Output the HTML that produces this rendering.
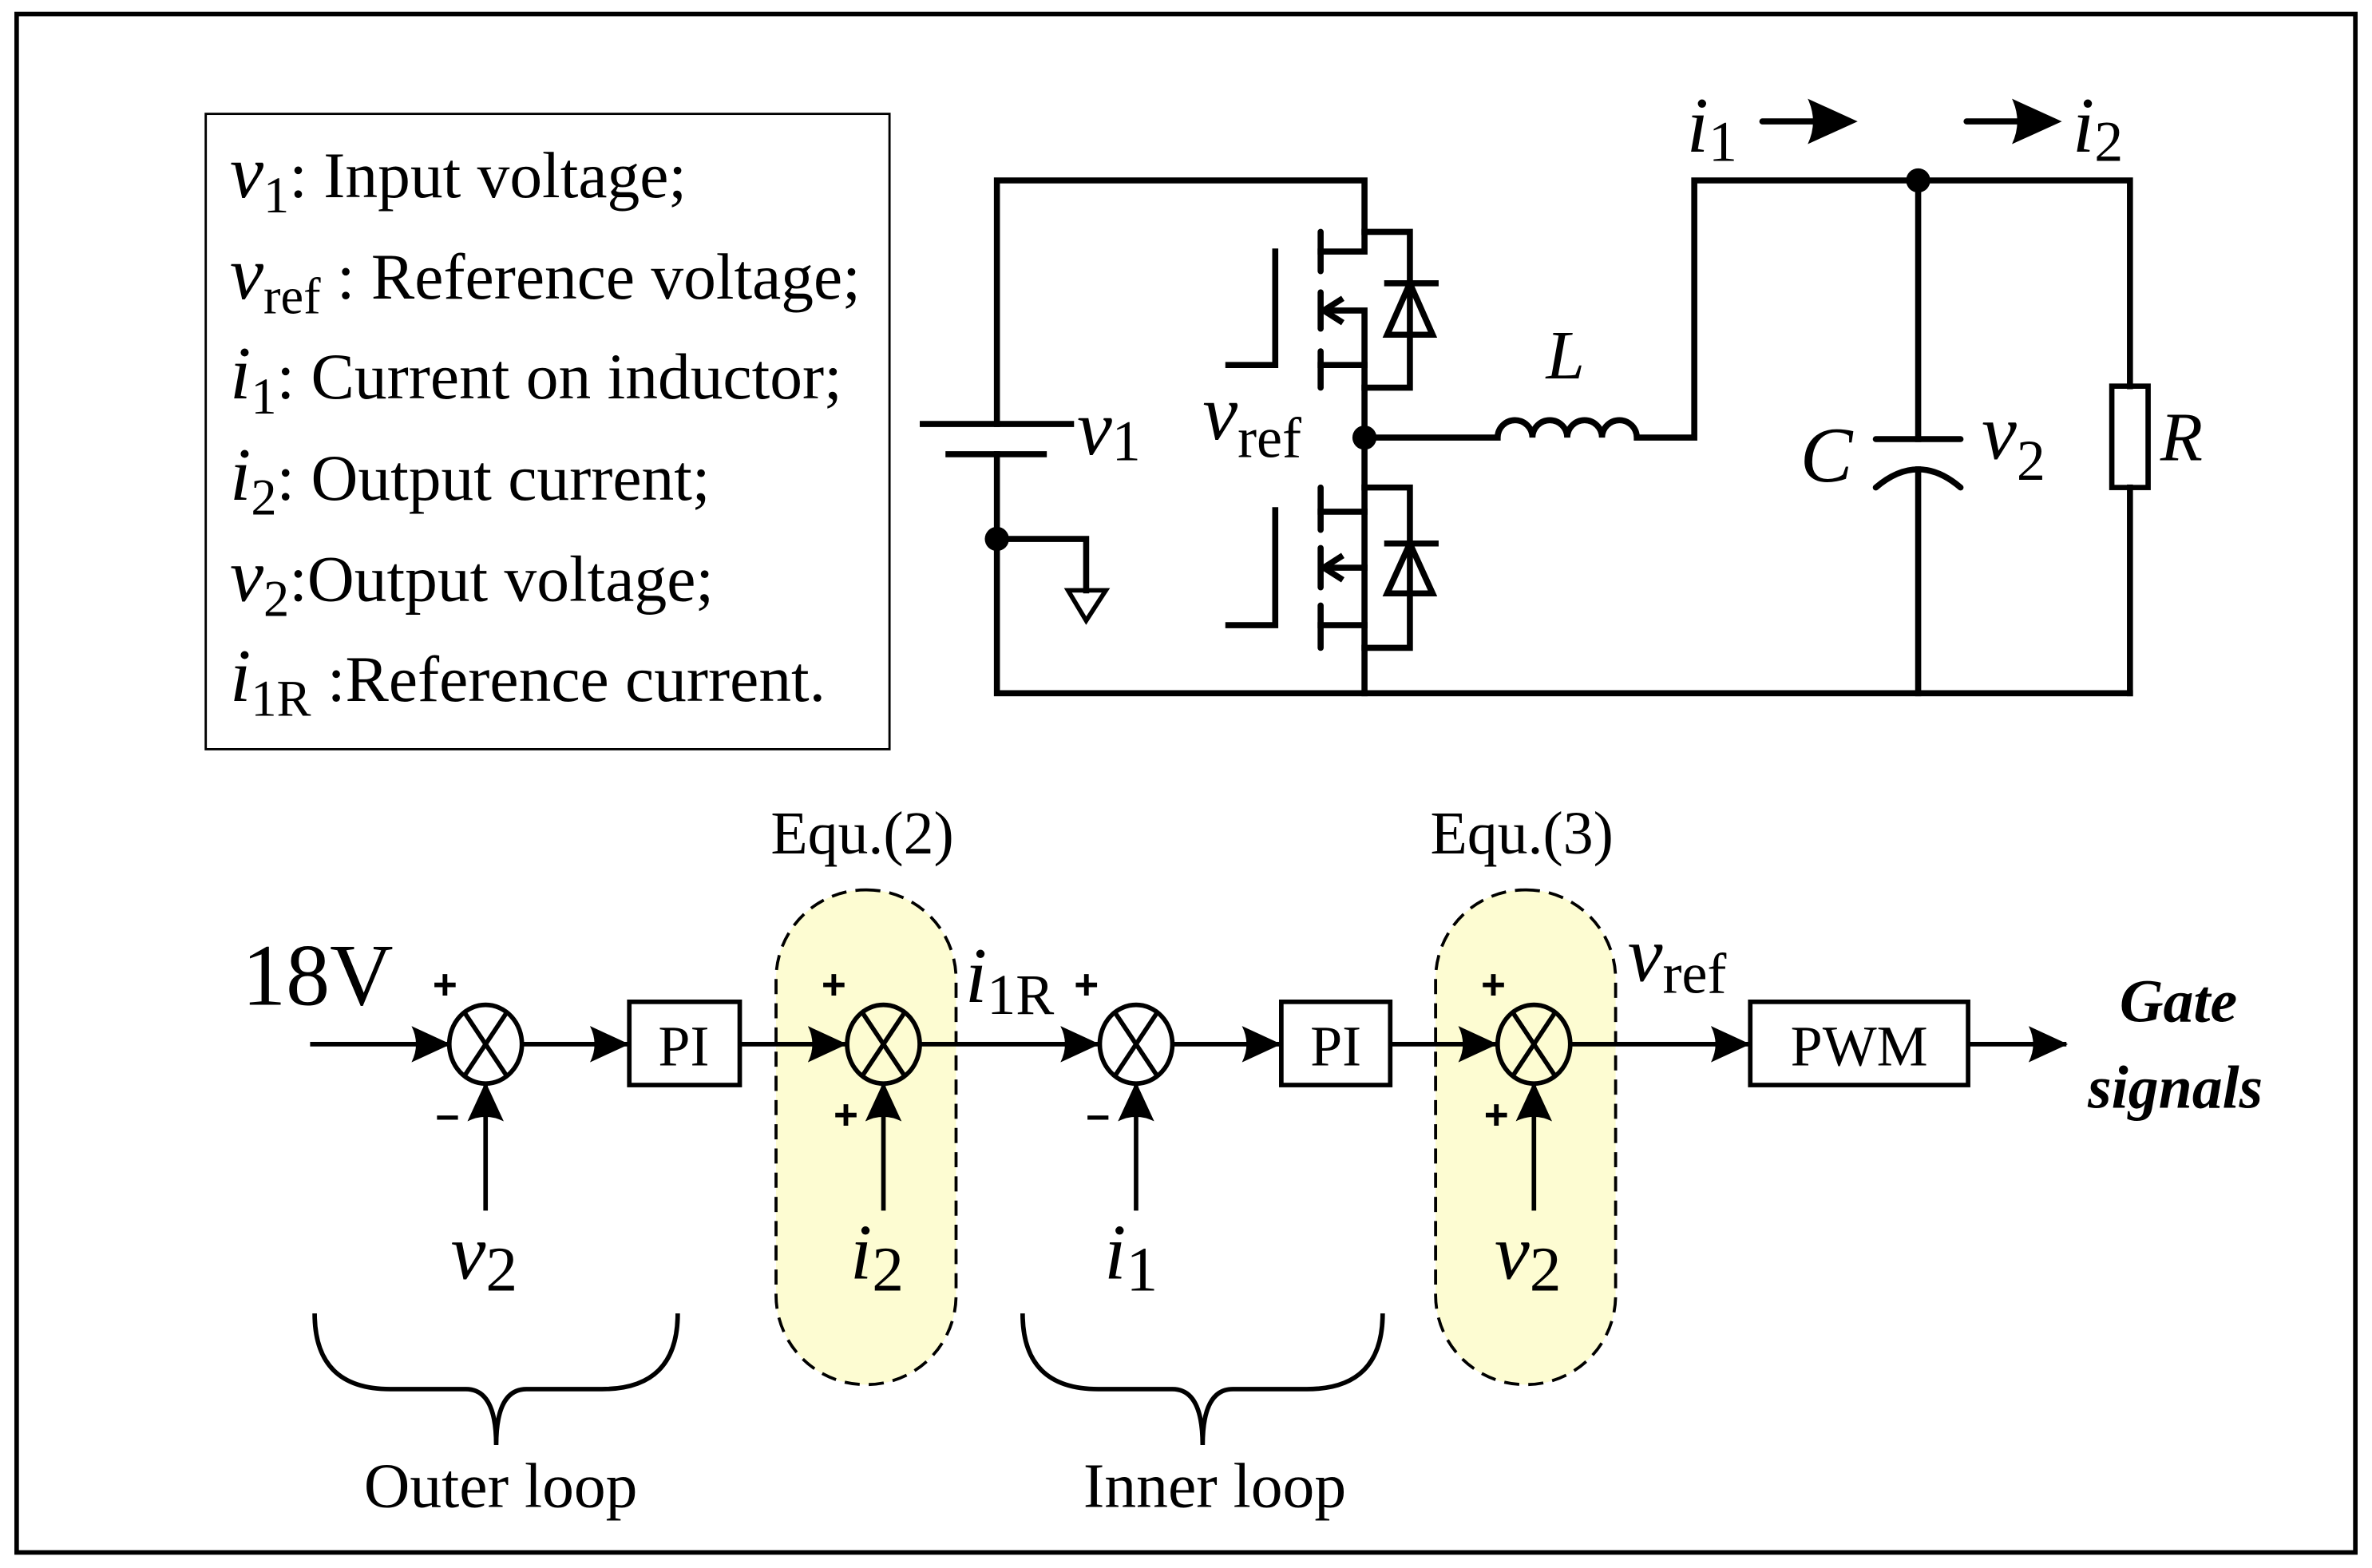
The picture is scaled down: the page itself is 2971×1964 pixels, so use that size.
<!DOCTYPE html>
<html><head><meta charset="utf-8"><style>
html,body{margin:0;padding:0;background:#fff}
svg{display:block}
text{font-family:"Liberation Serif",serif;fill:#000}
.it{font-style:italic}
</style></head><body>
<svg width="2971" height="1964" viewBox="0 0 1568 1036" xmlns="http://www.w3.org/2000/svg">
<defs>
<marker id="ah" markerWidth="26" markerHeight="24" refX="25" refY="12" orient="auto" markerUnits="userSpaceOnUse" viewBox="0 0 26 24">
<path d="M0,0 L26,12 L0,24 Q6,12 0,0 Z" fill="#000"/>
</marker>
</defs>
<rect x="0" y="0" width="1568" height="1036" fill="#fff"/>
<rect x="11" y="9" width="1546" height="1017" fill="none" stroke="#000" stroke-width="3"/>

<!-- legend -->
<rect x="136" y="75" width="452" height="420" fill="none" stroke="#000" stroke-width="1.5"/>
<g font-size="43">
<text x="152" y="130"><tspan class="it" font-size="50">v</tspan><tspan font-size="34" dy="10">1</tspan><tspan dy="-10">: Input voltage;</tspan></text>
<text x="152" y="197"><tspan class="it" font-size="50">v</tspan><tspan font-size="34" dy="10">ref</tspan><tspan dy="-10"> : Reference voltage;</tspan></text>
<text x="152" y="263"><tspan class="it" font-size="50">i</tspan><tspan font-size="34" dy="10">1</tspan><tspan dy="-10">: Current on inductor;</tspan></text>
<text x="152" y="330"><tspan class="it" font-size="50">i</tspan><tspan font-size="34" dy="10">2</tspan><tspan dy="-10">: Output current;</tspan></text>
<text x="152" y="397"><tspan class="it" font-size="50">v</tspan><tspan font-size="34" dy="10">2</tspan><tspan dy="-10">:Output voltage;</tspan></text>
<text x="152" y="463"><tspan class="it" font-size="50">i</tspan><tspan font-size="34" dy="10">1R</tspan><tspan dy="-10"> :Reference current.</tspan></text>
</g>

<!-- circuit -->
<g stroke="#000" stroke-width="4" fill="none" stroke-linecap="square">
<polyline points="659,280 659,119 902,119 902,166 873,166"/>
<line x1="610" y1="280" x2="708" y2="280"/>
<line x1="627" y1="300" x2="690" y2="300"/>
<polyline points="659,300 659,458 1408,458"/>
<polyline points="659,356 718,356 718,390"/>
<polygon points="706,390 731,390 718,410" stroke-width="3"/>
<line x1="873" y1="153" x2="873" y2="179" stroke-linecap="round"/>
<line x1="873" y1="193" x2="873" y2="217" stroke-linecap="round"/>
<line x1="873" y1="232" x2="873" y2="256" stroke-linecap="round"/>
<polyline points="843,166 843,241 812,241"/>
<polyline points="902,153 932,153 932,256 902,256"/>
<polyline points="878,205 902,205 902,458"/>
<line x1="873" y1="241" x2="902" y2="241"/>
<polyline points="886,198 875,205 886,212"/>
<line x1="917" y1="187" x2="949" y2="187"/>
<polygon points="932,187 917,221 947,221"/>
<line x1="873" y1="322" x2="873" y2="350" stroke-linecap="round"/>
<line x1="873" y1="362" x2="873" y2="388" stroke-linecap="round"/>
<line x1="873" y1="400" x2="873" y2="428" stroke-linecap="round"/>
<polyline points="843,337 843,413 812,413"/>
<line x1="873" y1="338" x2="902" y2="338"/>
<polyline points="902,322 932,322 932,428 902,428"/>
<line x1="878" y1="375" x2="902" y2="375"/>
<line x1="873" y1="413" x2="902" y2="413"/>
<polyline points="886,368 875,375 886,382"/>
<line x1="917" y1="359" x2="949" y2="359"/>
<polygon points="932,359 917,392 947,392"/>
<path d="M902,289 H990 a11.5,11.5 0 0 1 23,0 a11.5,11.5 0 0 1 23,0 a11.5,11.5 0 0 1 23,0 a11.5,11.5 0 0 1 23,0 H1120 V119 H1408 V255"/>
<rect x="1396" y="255" width="24" height="67" stroke-width="3.5"/>
<line x1="1408" y1="322" x2="1408" y2="458"/>
<line x1="1268" y1="119" x2="1268" y2="290"/>
<line x1="1240" y1="290" x2="1296" y2="290" stroke-linecap="round"/>
<path d="M1240,322 Q1268,298 1296,322" stroke-linecap="round"/>
<line x1="1268" y1="310" x2="1268" y2="458"/>
<line x1="1165" y1="80" x2="1200" y2="80" stroke-linecap="round"/>
<line x1="1300" y1="80" x2="1335" y2="80" stroke-linecap="round"/>
</g>
<path d="M1195,65 L1228,80 L1195,95 Q1202,80 1195,65Z"/>
<path d="M1330,65 L1363,80 L1330,95 Q1337,80 1330,65Z"/>
<circle cx="902" cy="289" r="8"/>
<circle cx="659" cy="356" r="8"/>
<circle cx="1268" cy="119" r="8"/>

<g font-size="40">
<text x="712" y="300"><tspan class="it" font-size="52">v</tspan><tspan font-size="38" dy="4">1</tspan></text>
<text x="795" y="290"><tspan class="it" font-size="52">v</tspan><tspan font-size="38" dy="12">ref</tspan></text>
<text x="1022" y="250" class="it" font-size="46">L</text>
<text x="1190" y="318" class="it" font-size="52">C</text>
<text x="1310" y="303"><tspan class="it" font-size="52">v</tspan><tspan font-size="38" dy="14">2</tspan></text>
<text x="1428" y="304" class="it" font-size="46">R</text>
<text x="1115" y="100"><tspan class="it" font-size="52">i</tspan><tspan font-size="38" dy="6">1</tspan></text>
<text x="1370" y="100"><tspan class="it" font-size="52">i</tspan><tspan font-size="38" dy="6">2</tspan></text>
</g>

<!-- block diagram -->
<rect x="513" y="588" width="119" height="327" rx="59" fill="#fdfcd2" stroke="#000" stroke-width="2" stroke-dasharray="10,6"/>
<rect x="949" y="588" width="119" height="327" rx="59" fill="#fdfcd2" stroke="#000" stroke-width="2" stroke-dasharray="10,6"/>
<g stroke="#000" stroke-width="3" fill="none">
<line x1="205" y1="690" x2="297" y2="690" marker-end="url(#ah)"/>
<line x1="321" y1="800" x2="321" y2="716" marker-end="url(#ah)"/>
<line x1="345" y1="690" x2="415" y2="690" marker-end="url(#ah)"/>
<rect x="416" y="662" width="73" height="55"/>
<line x1="489" y1="690" x2="559" y2="690" marker-end="url(#ah)"/>
<line x1="584" y1="800" x2="584" y2="716" marker-end="url(#ah)"/>
<line x1="608" y1="690" x2="726" y2="690" marker-end="url(#ah)"/>
<line x1="751" y1="800" x2="751" y2="716" marker-end="url(#ah)"/>
<line x1="775" y1="690" x2="846" y2="690" marker-end="url(#ah)"/>
<rect x="847" y="662" width="72" height="55"/>
<line x1="919" y1="690" x2="989" y2="690" marker-end="url(#ah)"/>
<line x1="1014" y1="800" x2="1014" y2="716" marker-end="url(#ah)"/>
<line x1="1038" y1="690" x2="1156" y2="690" marker-end="url(#ah)"/>
<rect x="1157" y="662" width="144" height="55"/>
<line x1="1301" y1="690" x2="1366" y2="690" marker-end="url(#ah)"/>
<ellipse cx="321" cy="690" rx="24" ry="26"/>
<line x1="307" y1="669" x2="335" y2="711"/><line x1="335" y1="669" x2="307" y2="711"/>
<ellipse cx="584" cy="690" rx="24" ry="26"/>
<line x1="570" y1="669" x2="598" y2="711"/><line x1="598" y1="669" x2="570" y2="711"/>
<ellipse cx="751" cy="690" rx="24" ry="26"/>
<line x1="737" y1="669" x2="765" y2="711"/><line x1="765" y1="669" x2="737" y2="711"/>
<ellipse cx="1014" cy="690" rx="24" ry="26"/>
<line x1="1000" y1="669" x2="1028" y2="711"/><line x1="1028" y1="669" x2="1000" y2="711"/>
<path d="M208,868 Q208,918 258,918 H308 Q328,918 328,955 Q328,918 348,918 H398 Q448,918 448,868"/>
<path d="M676,868 Q676,918 726,918 H775 Q795,918 795,955 Q795,918 815,918 H864 Q914,918 914,868"/>
</g>
<g font-size="28" font-weight="bold">
<text x="286" y="660" style="font-family:'Liberation Sans',sans-serif">+</text>
<text x="288" y="746" style="font-family:'Liberation Sans',sans-serif">–</text>
<text x="543" y="660" style="font-family:'Liberation Sans',sans-serif">+</text>
<text x="551" y="746" style="font-family:'Liberation Sans',sans-serif">+</text>
<text x="710" y="660" style="font-family:'Liberation Sans',sans-serif">+</text>
<text x="718" y="746" style="font-family:'Liberation Sans',sans-serif">–</text>
<text x="979" y="660" style="font-family:'Liberation Sans',sans-serif">+</text>
<text x="981" y="746" style="font-family:'Liberation Sans',sans-serif">+</text>
</g>
<g font-size="40">
<text x="160" y="664" font-size="58" textLength="100" lengthAdjust="spacingAndGlyphs">18V</text>
<text x="452" y="704" text-anchor="middle" font-size="38">PI</text>
<text x="883" y="704" text-anchor="middle" font-size="38">PI</text>
<text x="1229" y="704" text-anchor="middle" font-size="38">PWM</text>
<text x="570" y="564" text-anchor="middle">Equ.(2)</text>
<text x="1006" y="564" text-anchor="middle">Equ.(3)</text>
<text x="298" y="845"><tspan class="it" font-size="52">v</tspan><tspan font-size="42" dy="8">2</tspan></text>
<text x="562" y="845"><tspan class="it" font-size="52">i</tspan><tspan font-size="42" dy="8">2</tspan></text>
<text x="730" y="845"><tspan class="it" font-size="52">i</tspan><tspan font-size="42" dy="8">1</tspan></text>
<text x="988" y="845"><tspan class="it" font-size="52">v</tspan><tspan font-size="42" dy="8">2</tspan></text>
<text x="638" y="662"><tspan class="it" font-size="52">i</tspan><tspan font-size="38" dy="8">1R</tspan></text>
<text x="1076" y="648"><tspan class="it" font-size="52">v</tspan><tspan font-size="38" dy="8">ref</tspan></text>
<text x="1440" y="675" text-anchor="middle" font-weight="bold" font-style="italic" font-size="40">Gate</text>
<text x="1438" y="732" text-anchor="middle" font-weight="bold" font-style="italic" font-size="40">signals</text>
<text x="331" y="996" text-anchor="middle" font-size="42">Outer loop</text>
<text x="803" y="996" text-anchor="middle" font-size="42">Inner loop</text>
</g>
</svg>
</body></html>
